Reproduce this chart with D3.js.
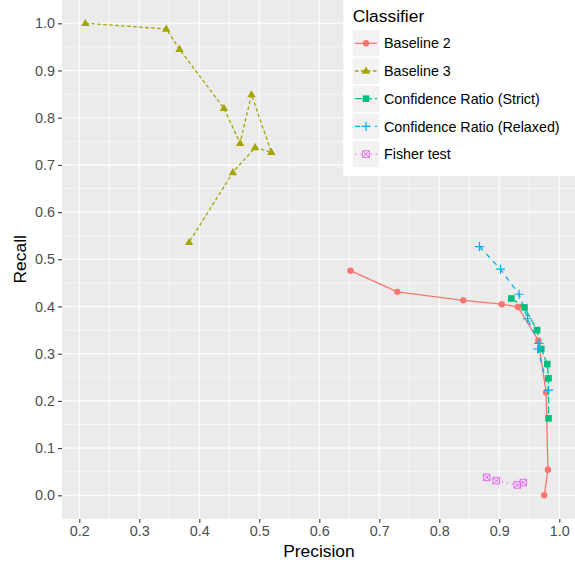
<!DOCTYPE html>
<html><head><meta charset="utf-8">
<script src="https://cdn.jsdelivr.net/npm/d3@7"></script>
<style>html,body{margin:0;padding:0;background:#fff;}svg{display:block;font-family:"Liberation Sans",Arial,sans-serif;}</style>
</head><body><div id="chart"></div>
<script>
const seriesNames = ["Baseline 2","Baseline 3","Confidence Ratio (Strict)","Confidence Ratio (Relaxed)","Fisher test"];
const seriesColors = ["#F8766D","#A3A500","#00BF7D","#00B0F6","#E76BF3"];
const baseline2Precision = [0.652,0.730,0.840,0.904,0.931,0.965,0.978,0.981,0.975];
const baseline2Recall    = [0.476,0.431,0.413,0.405,0.399,0.328,0.218,0.054,0.000];
const baseline3Precision = [0.210,0.345,0.367,0.441,0.468,0.487,0.520,0.493,0.456,0.383];
const baseline3Recall    = [1.000,0.988,0.945,0.820,0.746,0.849,0.727,0.737,0.684,0.536];
const strictPrecision = [0.920,0.942,0.963,0.970,0.980,0.982,0.982];
const strictRecall    = [0.417,0.398,0.350,0.310,0.278,0.248,0.163];
const relaxedPrecision = [0.867,0.902,0.933,0.947,0.966,0.964,0.982];
const relaxedRecall    = [0.527,0.479,0.426,0.374,0.322,0.310,0.223];
const fisherPrecision = [0.879,0.895,0.930,0.940];
const fisherRecall    = [0.038,0.031,0.022,0.027];
const xTicks = [0.2,0.3,0.4,0.5,0.6,0.7,0.8,0.9,1.0];
const yTicks = [0.0,0.1,0.2,0.3,0.4,0.5,0.6,0.7,0.8,0.9,1.0];
const xTitle = "Precision", yTitle = "Recall", legendTitle = "Classifier";

const W = 575, H = 562;
const x = d3.scaleLinear().domain([0.2,1.0]).range([79.3,559.3]);
const y = d3.scaleLinear().domain([0,1]).range([495.3,23.3]);
const panel = {x0: x(0.171), x1: 576, y0: y(1.05), y1: y(-0.05)};

const svg = d3.select("#chart").append("svg").attr("width",W).attr("height",H);
svg.append("rect").attr("x",panel.x0).attr("y",panel.y0).attr("width",panel.x1-panel.x0).attr("height",panel.y1-panel.y0).attr("fill","#EBEBEB");

const g = svg.append("g");
// minor grid
const xMinor = xTicks.slice(0,-1).map(v=>v+0.05).concat([0.15,1.05]).filter(v=>x(v)>panel.x0&&x(v)<panel.x1);
const yMinor = yTicks.slice(0,-1).map(v=>v+0.05).concat([-0.05,1.05]).filter(v=>y(v)>panel.y0&&y(v)<panel.y1);
g.selectAll(".xm").data(xMinor).join("line").attr("x1",d=>x(d)).attr("x2",d=>x(d)).attr("y1",panel.y0).attr("y2",panel.y1).attr("stroke","#fff").attr("stroke-width",0.55);
g.selectAll(".ym").data(yMinor).join("line").attr("y1",d=>y(d)).attr("y2",d=>y(d)).attr("x1",panel.x0).attr("x2",panel.x1).attr("stroke","#fff").attr("stroke-width",0.55);
g.selectAll(".xM").data(xTicks).join("line").attr("x1",d=>x(d)).attr("x2",d=>x(d)).attr("y1",panel.y0).attr("y2",panel.y1).attr("stroke","#fff").attr("stroke-width",1.1);
g.selectAll(".yM").data(yTicks).join("line").attr("y1",d=>y(d)).attr("y2",d=>y(d)).attr("x1",panel.x0).attr("x2",panel.x1).attr("stroke","#fff").attr("stroke-width",1.1);

// axes
const xAxis = d3.axisBottom(x).tickValues(xTicks).tickFormat(d3.format(".1f")).tickSize(3.8).tickPadding(3);
const yAxis = d3.axisLeft(y).tickValues(yTicks).tickFormat(d3.format(".1f")).tickSize(3.8).tickPadding(3);
const gx = svg.append("g").attr("transform",`translate(0,${panel.y1})`).call(xAxis);
const gy = svg.append("g").attr("transform",`translate(${panel.x0},0)`).call(yAxis);
[gx,gy].forEach(a=>{a.select(".domain").remove();a.selectAll(".tick line").attr("stroke","#333333").attr("stroke-width",1.1);
  a.selectAll(".tick text").attr("fill","#4D4D4D").style("font-size","14.4px");});
svg.append("text").attr("x",(panel.x0+panel.x1)/2).attr("y",557).attr("text-anchor","middle").style("font-size","17.4px").attr("fill","#000").text(xTitle);
svg.append("text").attr("transform",`translate(26,${(panel.y0+panel.y1)/2}) rotate(-90)`).attr("text-anchor","middle").style("font-size","17.4px").attr("fill","#000").text(yTitle);

const series = [
  {name:seriesNames[0],color:seriesColors[0],px:baseline2Precision,py:baseline2Recall,dash:null,shape:"circle"},
  {name:seriesNames[1],color:seriesColors[1],px:baseline3Precision,py:baseline3Recall,dash:"3.5,2.5",shape:"triangle"},
  {name:seriesNames[2],color:seriesColors[2],px:strictPrecision,py:strictRecall,dash:"7,3",shape:"square"},
  {name:seriesNames[3],color:seriesColors[3],px:relaxedPrecision,py:relaxedRecall,dash:"5,5",shape:"plus"},
  {name:seriesNames[4],color:seriesColors[4],px:fisherPrecision,py:fisherRecall,dash:"1.2,4",shape:"sqx"},
];
const line = d3.line().x(d=>x(d[0])).y(d=>y(d[1]));

function drawShape(sel, shape, color){
  if(shape==="circle"){ sel.append("circle").attr("r",3.2).attr("fill",color); }
  else if(shape==="triangle"){ sel.append("path").attr("d","M0,-4.4L4.2,2.8L-4.2,2.8Z").attr("fill",color); }
  else if(shape==="square"){ sel.append("rect").attr("x",-3.3).attr("y",-3.3).attr("width",6.6).attr("height",6.6).attr("fill",color); }
  else if(shape==="plus"){ sel.append("path").attr("d","M-4.6,0H4.6M0,-4.6V4.6").attr("stroke",color).attr("stroke-width",1.2).attr("fill","none"); }
  else if(shape==="sqx"){ sel.append("path").attr("d","M-3.3,-3.3H3.3V3.3H-3.3ZM-3.3,-3.3L3.3,3.3M3.3,-3.3L-3.3,3.3").attr("stroke",color).attr("stroke-width",1).attr("fill","none"); }
}

series.forEach(s=>{
  const pts = s.px.map((v,i)=>[v,s.py[i]]);
  g.append("path").datum(pts).attr("d",line).attr("fill","none").attr("stroke",s.color).attr("stroke-width",1.3).attr("stroke-dasharray",s.dash);
});
series.forEach(s=>{
  const pts = s.px.map((v,i)=>[v,s.py[i]]);
  g.selectAll(null).data(pts).join("g").attr("transform",d=>`translate(${x(d[0])},${y(d[1])})`).each(function(){drawShape(d3.select(this),s.shape,s.color);});
});

// legend
const lg = svg.append("g");
lg.append("rect").attr("x",343.3).attr("y",0).attr("width",W-343.3).attr("height",176).attr("fill","#fff");
lg.append("text").attr("x",352.7).attr("y",21.7).style("font-size","17.4px").attr("fill","#000").text(legendTitle);
series.forEach((s,i)=>{
  const cy = 43.3 + i*27.7;
  const k = lg.append("g").attr("transform",`translate(366,${cy})`);
  k.append("rect").attr("x",-13.3).attr("y",-13).attr("width",26.6).attr("height",26).attr("fill","#F2F2F2");
  k.append("line").attr("x1",-11).attr("x2",11).attr("stroke",s.color).attr("stroke-width",1.3).attr("stroke-dasharray",s.dash);
  drawShape(k,s.shape,s.color);
  lg.append("text").attr("x",384).attr("y",cy+5.1).style("font-size","14.3px").attr("fill","#000").text(s.name);
});
</script></body></html>
